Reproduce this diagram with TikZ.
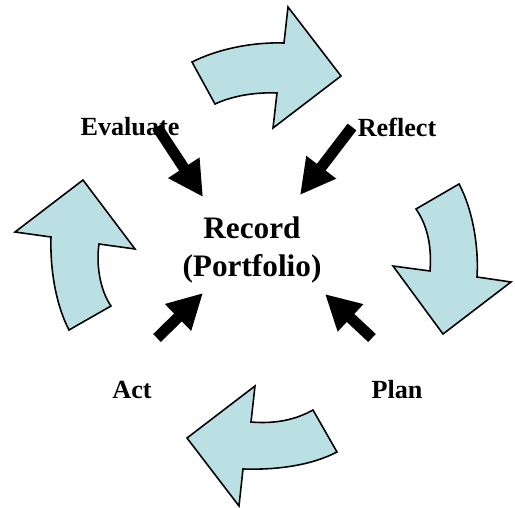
\documentclass[tikz,border=0pt]{standalone}
\usepackage{fontspec}
\setmainfont{Liberation Serif}
\usepackage{xcolor}
\usetikzlibrary{arrows.meta}
\definecolor{cyclefill}{RGB}{187,224,228}

\begin{document}
\begin{tikzpicture}[x=0.02cm,y=-0.02cm,
  curlarrow/.style={draw=black,fill=cyclefill,line width=0.9pt,line join=miter},
  push/.style={line width=0.22cm,-{Triangle[length=0.7cm,width=0.7cm]}},
  lbl/.style={font=\fontsize{14.9}{17}\selectfont\bfseries}]
\useasboundingbox (0,0) rectangle (515,508);

% curved arrows of the cycle
\draw[curlarrow] (192,62) .. controls (220,48) and (255,42) .. (284,43)
  -- (288,7) -- (341,76) -- (273,128) -- (277,93)
  .. controls (255,92) and (232,96) .. (215,104) -- cycle;
\draw[curlarrow] (416,209) -- (459,184) .. controls (472,208) and (479,245) .. (477,277)
  -- (511,282) -- (443,334) -- (393,266) -- (430,271)
  .. controls (432,245) and (427,225) .. (416,209) -- cycle;
\draw[curlarrow] (313,410) -- (337,452) .. controls (310,466) and (275,470) .. (243,469)
  -- (239,506) -- (187,438) -- (255,386) -- (251,422)
  .. controls (275,424) and (295,420) .. (313,410) -- cycle;
\draw[curlarrow] (69,330) -- (111,306) .. controls (100,290) and (96,265) .. (99,244)
  -- (135,249) -- (83,180) -- (15,232) -- (51,237)
  .. controls (50,270) and (56,305) .. (69,330) -- cycle;

% labels
\node[align=center,font=\fontsize{17.8}{21.5}\selectfont\bfseries] (record) at (252,250) {Record\\(Portfolio)};
\node[lbl] (evaluate) at (130,127) {Evaluate};
\node[lbl] (reflect) at (397,127) {Reflect};
\node[lbl] (act) at (132,390) {Act};
\node[lbl] (plan) at (397,390) {Plan};

% straight arrows into the record
\coordinate (evtail) at (157,127);
\coordinate (evtip) at (203,197);
\coordinate (retail) at (352,127);
\coordinate (retip) at (300,195);
\coordinate (actail) at (157,338);
\coordinate (actip) at (203,293);
\coordinate (pltail) at (372,338);
\coordinate (pltip) at (325,294);
\draw[push] (evtail) -- (evtip);
\draw[push] (retail) -- (retip);
\draw[push] (actail) -- (actip);
\draw[push] (pltail) -- (pltip);
\end{tikzpicture}
\end{document}
